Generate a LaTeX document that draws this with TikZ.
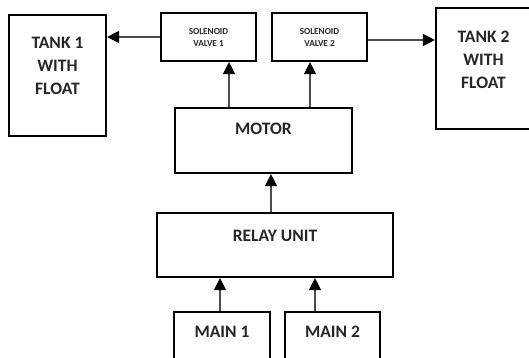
\documentclass[tikz,border=0pt]{standalone}
\usepackage{fontspec}
\setmainfont{Carlito}
\usetikzlibrary{arrows.meta}

\tikzset{
  block/.style={draw, line width=2.2pt, inner sep=0pt},
  bigtext/.style={align=center, text=black!85, font=\bfseries\fontsize{17.5}{23}\selectfont},
  smalltext/.style={align=center, text=black!85, font=\bfseries\fontsize{9.2}{12}\selectfont},
  flow/.style={-{Triangle[length=12pt,width=12pt,black]}, line width=1.2pt, black!70}
}

\begin{document}
\begin{tikzpicture}[x=1pt,y=-1pt]
\clip (0,0) rectangle (529,358);

% boxes
\node[block, minimum width=97pt, minimum height=121pt] (tank1) at (57.5,75.5) {};
\node[block, minimum width=97pt, minimum height=121pt] (tank2) at (484.5,68.5) {};
\node[block, minimum width=95pt, minimum height=48pt] (sv1) at (208.5,37) {};
\node[block, minimum width=95pt, minimum height=48pt] (sv2) at (319.5,37) {};
\node[block, minimum width=177pt, minimum height=65pt] (motor) at (263.5,140.5) {};
\node[block, minimum width=236pt, minimum height=64pt] (relay) at (275,245) {};
\node[block, minimum width=96pt, minimum height=60pt] (main1) at (222,342) {};
\node[block, minimum width=95pt, minimum height=60pt] (main2) at (332.5,342) {};

% texts
\node[bigtext] (tank1txt) at (57.5,66) {TANK 1\\WITH\\FLOAT};
\node[bigtext] (tank2txt) at (483.5,60) {TANK 2\\WITH\\FLOAT};
\node[smalltext] (sv1txt) at (208.5,37) {SOLENOID\\VALVE 1};
\node[smalltext] (sv2txt) at (319.5,37) {SOLENOID\\VALVE 2};
\node[bigtext] (motortxt) at (263.5,129) {MOTOR};
\node[bigtext] (relaytxt) at (275,236) {RELAY UNIT};
\node[bigtext] (main1txt) at (222,332) {MAIN 1};
\node[bigtext] (main2txt) at (332.5,332) {MAIN 2};

% connections
\draw[flow] (sv1.west) -- (sv1.west -| tank1.east);
\draw[flow] ([yshift=-3pt]sv2.east) -- ([yshift=-3pt]sv2.east -| tank2.west);
\draw[flow] ([xshift=-34.5pt]motor.north) -- ([xshift=-34.5pt]motor.north |- sv1.south);
\draw[flow] ([xshift=46.5pt]motor.north) -- ([xshift=46.5pt]motor.north |- sv2.south);
\draw[flow] ([xshift=-4pt]relay.north) -- ([xshift=-4pt]relay.north |- motor.south);
\draw[flow] ([xshift=-2pt]main1.north) -- ([xshift=-2pt]main1.north |- relay.south);
\draw[flow] ([xshift=-17.5pt]main2.north) -- ([xshift=-17.5pt]main2.north |- relay.south);
\end{tikzpicture}
\end{document}
